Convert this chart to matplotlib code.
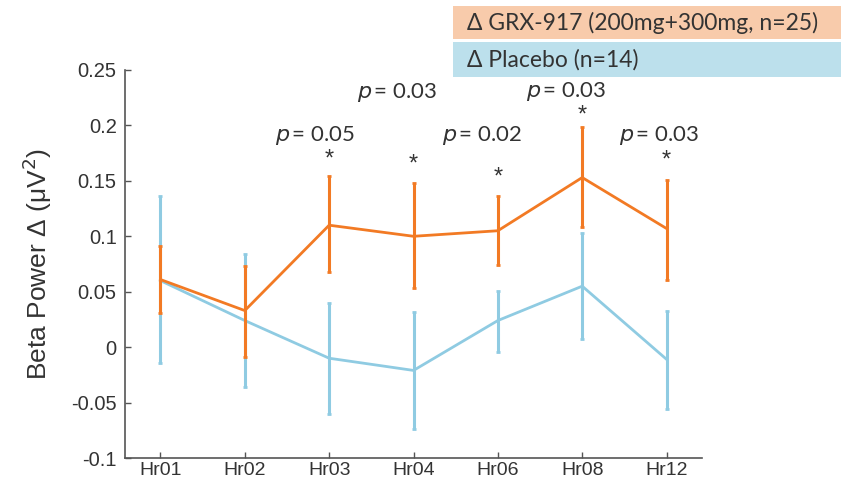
import matplotlib
matplotlib.use("Agg")
import matplotlib.pyplot as plt
from matplotlib.patches import Rectangle

categories = ["Hr01", "Hr02", "Hr03", "Hr04", "Hr06", "Hr08", "Hr12"]

grx_mean = [0.061, 0.033, 0.110, 0.100, 0.105, 0.153, 0.107]
grx_hi   = [0.091, 0.073, 0.154, 0.148, 0.136, 0.199, 0.151]
grx_lo   = [0.031, -0.009, 0.068, 0.053, 0.074, 0.108, 0.061]

pla_mean = [0.060, 0.024, -0.010, -0.021, 0.024, 0.055, -0.011]
pla_hi   = [0.136, 0.084, 0.040, 0.032, 0.051, 0.103, 0.033]
pla_lo   = [-0.014, -0.036, -0.060, -0.074, -0.004, 0.007, -0.056]

sig_labels = ["", "", "0.05", "0.03", "0.02", "0.03", "0.03"]
star_y = [None, None, 0.169, 0.165, 0.153, 0.209, 0.168]
p_y = [None, None, 0.191, 0.230, 0.191, 0.231, 0.191]

yticks = [0.25, 0.2, 0.15, 0.1, 0.05, 0, -0.05, -0.1]
ytick_labels = ["0.25", "0.2", "0.15", "0.1", "0.05", "0", "-0.05", "-0.1"]

legend_labels = ["\u0394 GRX-917 (200mg+300mg, n=25)", "\u0394 Placebo (n=14)"]

ORANGE = "#F27A24"
BLUE = "#8FCBE2"
TXT = "#333333"

plt.rcParams['font.family'] = ['Liberation Sans', 'DejaVu Sans']

W, H = 856, 483
fig = plt.figure(figsize=(W / 100, H / 100), dpi=100)
ax = fig.add_axes([125 / W, 1 - 458 / H, (702 - 125) / W, (458 - 70) / H])

x = list(range(len(categories)))
pl_err = [[m - l for m, l in zip(pla_mean, pla_lo)], [h - m for m, h in zip(pla_mean, pla_hi)]]
gr_err = [[m - l for m, l in zip(grx_mean, grx_lo)], [h - m for m, h in zip(grx_mean, grx_hi)]]

ax.errorbar(x, pla_mean, yerr=pl_err, color=BLUE, lw=2, elinewidth=2.2, capsize=1.2, capthick=2, zorder=2)
ax.errorbar(x, grx_mean, yerr=gr_err, color=ORANGE, lw=2, elinewidth=2.2, capsize=1.2, capthick=2, zorder=3)

offsets = [0, 0, -0.17, -0.19, -0.19, -0.19, -0.09]
for i, lab in enumerate(sig_labels):
    if not lab:
        continue
    ax.text(i, star_y[i], "*", ha="center", va="center", fontsize=17, color=TXT)
    ax.text(i + offsets[i], p_y[i], r"$\it{p}$" + "\u2009= " + lab, ha="center", va="center",
            fontsize=16, color=TXT, family=['Lato', 'DejaVu Sans'])

ax.set_xlim(-0.42, 6.42)
ax.set_ylim(-0.1, 0.25)
ax.set_xticks(x)
ax.set_xticklabels(categories)
ax.set_yticks(yticks)
ax.set_yticklabels(ytick_labels)
ax.tick_params(direction="in", length=4, width=1, colors="#555555", labelcolor=TXT, labelsize=14.5)
ax.tick_params(axis="y", pad=6)
ax.tick_params(axis="x", pad=3, labelsize=14)
for s in ["top", "right"]:
    ax.spines[s].set_visible(False)
for s in ["left", "bottom"]:
    ax.spines[s].set_color("#555555")
    ax.spines[s].set_linewidth(1.2)
ax.set_ylabel("Beta Power \u0394 (\u03bcV$^2$)", fontsize=19, color=TXT, labelpad=12)

# legend boxes
box_colors = ["#F8CBAB", "#BCE0EC"]
box_y = [(6, 39), (42, 77)]
for lab, c, (y0, y1) in zip(legend_labels, box_colors, box_y):
    fig.patches.append(Rectangle((453 / W, 1 - y1 / H), (841 - 453) / W, (y1 - y0) / H,
                                 transform=fig.transFigure, facecolor=c, edgecolor="none"))
    fig.text(467 / W, 1 - (y0 + y1) / 2 / H, lab, ha="left", va="center", fontsize=16.5,
             color=TXT, family=['Lato', 'DejaVu Sans'])

fig.savefig("out.png", dpi=100)
